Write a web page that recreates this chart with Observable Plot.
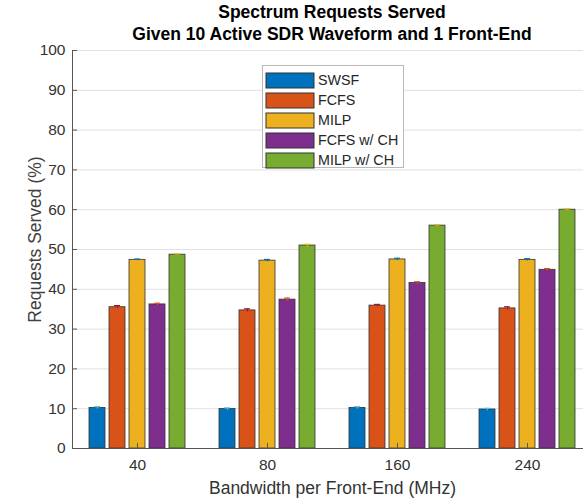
<!DOCTYPE html>
<html>
<head>
<meta charset="utf-8">
<script src="https://cdn.jsdelivr.net/npm/d3@7"></script>
<script src="https://cdn.jsdelivr.net/npm/@observablehq/plot@0.6"></script>
<style>
  body { margin: 0; background: #fff; }
  #wrap { position: relative; width: 583px; height: 499px; overflow: hidden; font-family: "Liberation Sans", Arial, sans-serif; }
  #title { position: absolute; left: 0; top: 2px; width: 664px; text-align: center; font-weight: bold; font-size: 17.5px; line-height: 21.5px; color: #000; }
  #legend { position: absolute; left: 262px; top: 65px; width: 140px; height: 101px; border: 1px solid #b8b8b8; background: #fff; box-sizing: content-box; }
  #legend > div { margin: 0 !important; padding: 4px 0 0 3px !important; font-family: "Liberation Sans", Arial, sans-serif !important; font-size: 14.3px !important; color: #262626 !important; }
  #legend div[class$="-swatch"] { height: 20px; padding: 0 !important; margin: 0 !important; display: flex; align-items: center; }
  #legend svg { margin-right: 4px !important; }
  #legend svg rect { stroke: #333; stroke-width: 1px; }
</style>
</head>
<body>
<div id="wrap">
  <div id="title">Spectrum Requests Served<br>Given 10 Active SDR Waveform and 1 Front-End</div>
  <div id="chart"></div>
  <div id="legend"></div>
</div>
<script>
const bandwidths = ["40", "80", "160", "240"];
const series = ["SWSF", "FCFS", "MILP", "FCFS w/ CH", "MILP w/ CH"];
const colors = ["#0072BD", "#D95319", "#EDB120", "#7E2F8E", "#77AC30"];
const errColors = ["#4DBEEE", "#A2142F", "#0072BD", "#D95319", "#EDB120"];
const swsf   = [10.2,  9.9, 10.2,  9.8];
const fcfs   = [35.5, 34.7, 35.9, 35.2];
const milp   = [47.4, 47.2, 47.5, 47.4];
const fcfsCH = [36.2, 37.4, 41.6, 44.9];
const milpCH = [48.7, 51.0, 56.0, 60.0];
const errSwsf   = [0.3, 0.3, 0.3, 0.3];
const errFcfs   = [0.4, 0.4, 0.3, 0.4];
const errMilp   = [0.2, 0.3, 0.3, 0.3];
const errFcfsCH = [0.3, 0.4, 0.3, 0.3];
const errMilpCH = [0.2, 0.3, 0.2, 0.2];
const yTicks = [0, 10, 20, 30, 40, 50, 60, 70, 80, 90, 100];
const yLabel = "Requests Served (%)";
const xLabel = "Bandwidth per Front-End (MHz)";

const values = [swsf, fcfs, milp, fcfsCH, milpCH];
const errs = [errSwsf, errFcfs, errMilp, errFcfsCH, errMilpCH];
const data = [];
bandwidths.forEach((b, i) => series.forEach((s, j) => data.push({bw: b, series: s, value: values[j][i], err: errs[j][i]})));

const errMarks = [];
series.forEach((s, j) => {
  const sub = data.filter(d => d.series === s);
  errMarks.push(Plot.ruleX(sub, {fx: "bw", x: "series", y1: d => d.value - d.err, y2: d => d.value + d.err, stroke: errColors[j], strokeWidth: 1.2}));
  errMarks.push(Plot.tickY(sub, {fx: "bw", x: "series", y: d => d.value + d.err, stroke: errColors[j], strokeWidth: 1.2, insetLeft: 5, insetRight: 5}));
});

const plot = Plot.plot({
  width: 583,
  height: 499,
  marginTop: 50,
  marginBottom: 51,
  marginLeft: 72,
  marginRight: -9,
  style: {fontFamily: "'Liberation Sans', Arial, sans-serif", fontSize: "15.5px", color: "#333", background: "transparent"},
  fx: {domain: bandwidths, padding: 0, label: xLabel},
  x: {domain: series, paddingInner: 0.2, paddingOuter: 0.82, axis: null},
  y: {domain: [0, 100], ticks: yTicks, label: yLabel},
  color: {domain: series, range: colors},
  marks: [
    Plot.gridY(yTicks, {stroke: "#e0e0e0", strokeOpacity: 1}),
    Plot.barY(data, {fx: "bw", x: "series", y: "value", fill: "series", stroke: "#333", strokeWidth: 0.8}),
    ...errMarks,
    Plot.ruleY([0], {stroke: "#555"}),
    Plot.frame({anchor: "left", facet: "super", stroke: "#555"}),
    Plot.axisY(yTicks, {anchor: "left", tickSize: -5, tickFormat: () => "", label: null, stroke: "#555"}),
    Plot.axisY(yTicks, {anchor: "left", tickSize: 0, tickPadding: 7, label: null, fontSize: 15.5}),
    Plot.text([yLabel], {frameAnchor: "left", facet: "super", rotate: -90, dx: -37, dy: -10, fontSize: 17.5, fill: "#404040", textAnchor: "middle", lineAnchor: "middle"}),
    Plot.axisFx({anchor: "bottom", tickSize: -5, tickFormat: () => "", label: null, stroke: "#555"}),
    Plot.axisFx({anchor: "bottom", tickSize: 0, tickPadding: 10, label: xLabel, labelAnchor: "center", labelArrow: "none", labelOffset: 45, fontSize: 15.5})
  ]
});
plot.querySelectorAll("g[aria-label='fx-axis label'] text, g[aria-label='fx-axis label']").forEach(el => el.setAttribute("font-size", "17.5"));
document.getElementById("chart").appendChild(plot);
const leg = plot.legend("color", {legend: "swatches", columns: 1, swatchWidth: 48, swatchHeight: 15});
document.getElementById("legend").appendChild(leg);
</script>
</body>
</html>
